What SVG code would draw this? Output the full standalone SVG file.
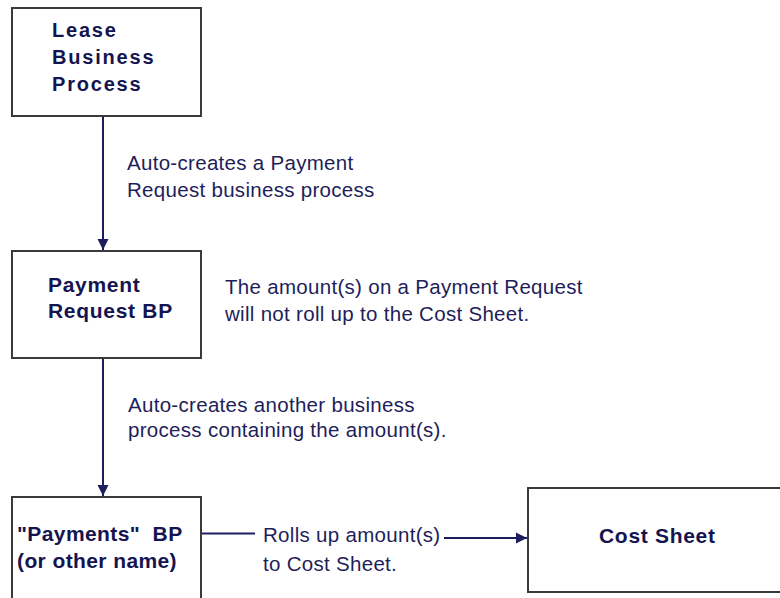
<svg xmlns="http://www.w3.org/2000/svg" width="780" height="598" viewBox="0 0 780 598">
<style>
.box{fill:#fff;stroke:#3a3a3a;stroke-width:2}
.bt{font-family:"Liberation Sans",Arial,sans-serif;font-weight:bold;font-size:21px;fill:#141450;letter-spacing:0.7px}
.lt{font-family:"Liberation Sans",Arial,sans-serif;font-size:20.5px;fill:#1e1e5a;letter-spacing:0.3px}
.ln{stroke:#1e1e5e;stroke-width:2;fill:none}
.sh{stroke:#9a9a9a;stroke-width:6;fill:none;filter:url(#blur);opacity:0.7}
</style>
<defs>
<filter id="blur" x="-50%" y="-50%" width="200%" height="200%"><feGaussianBlur stdDeviation="3"/></filter>
<marker id="ah" markerWidth="12" markerHeight="12" refX="11" refY="6" orient="auto" markerUnits="userSpaceOnUse">
<path d="M0,0.5 L11,6 L0,11.5 Z" fill="#1e1e5e"/>
</marker>
</defs>
<rect width="780" height="598" fill="#fff"/>
<g id="connectors">
<line class="sh" x1="111" y1="118" x2="111" y2="262"/>
<line class="sh" x1="111" y1="360" x2="111" y2="508"/>
<line class="sh" x1="450" y1="546" x2="534" y2="546"/>
<line class="ln" x1="103" y1="117" x2="103" y2="250" marker-end="url(#ah)"/>
<line class="ln" x1="103" y1="359" x2="103" y2="496" marker-end="url(#ah)"/>
<line class="ln" x1="202" y1="533.5" x2="255" y2="533.5"/>
<line class="ln" x1="444" y1="538" x2="527" y2="538" marker-end="url(#ah)"/>
</g>
<g id="lease">
<rect class="box" x="12" y="8" width="189" height="108"/>
<text class="bt" style="font-size:20px;letter-spacing:1.8px" x="52" y="37">Lease</text>
<text class="bt" style="font-size:20px;letter-spacing:1.8px" x="52" y="64">Business</text>
<text class="bt" style="font-size:20px;letter-spacing:1.8px" x="52" y="91">Process</text>
</g>
<g id="payment-request">
<rect class="box" x="12" y="251" width="189" height="107"/>
<text class="bt" x="48" y="292">Payment</text>
<text class="bt" x="48" y="318">Request BP</text>
</g>
<g id="payments">
<rect class="box" x="12" y="497" width="189" height="110"/>
<text class="bt" style="letter-spacing:0.4px" x="17" y="541" xml:space="preserve">"Payments"  BP</text>
<text class="bt" style="letter-spacing:0.4px" x="17" y="568">(or other name)</text>
</g>
<g id="cost-sheet">
<rect class="box" x="528" y="488" width="262" height="104"/>
<text class="bt" x="599" y="543">Cost Sheet</text>
</g>
<g id="labels">
<text class="lt" x="127" y="170">Auto-creates a Payment</text>
<text class="lt" x="127" y="197">Request business process</text>
<text class="lt" x="225" y="294">The amount(s) on a Payment Request</text>
<text class="lt" x="225" y="321">will not roll up to the Cost Sheet.</text>
<text class="lt" x="128" y="412">Auto-creates another business</text>
<text class="lt" x="128" y="437">process containing the amount(s).</text>
<text class="lt" x="263" y="542">Rolls up amount(s)</text>
<text class="lt" x="263" y="571">to Cost Sheet.</text>
</g>
</svg>
